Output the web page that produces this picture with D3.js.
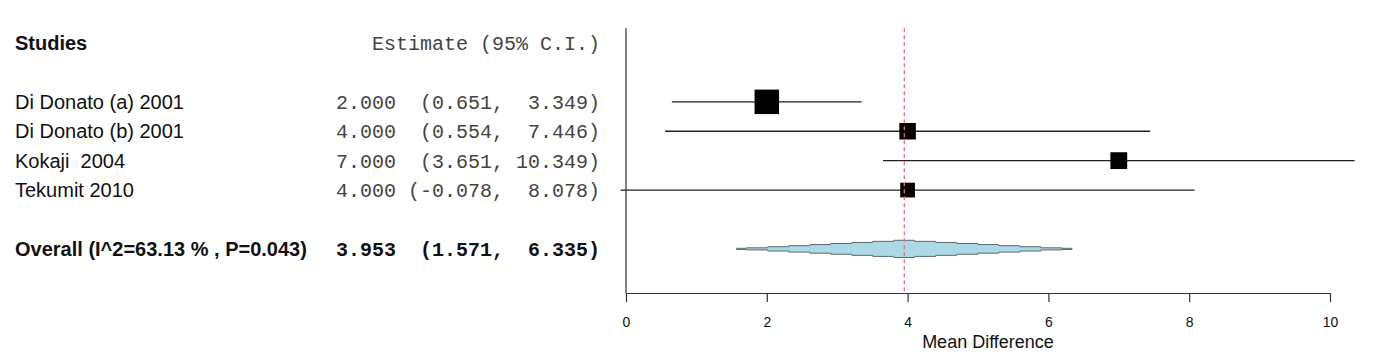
<!DOCTYPE html>
<html>
<head>
<meta charset="utf-8">
<script src="https://cdn.jsdelivr.net/npm/d3@7"></script>
<style>
  html, body { margin: 0; padding: 0; background: #fff; }
  svg { display: block; }
  text { white-space: pre; }
</style>
</head>
<body>
<script>
// ---- data ----
const studies   = ["Di Donato (a) 2001", "Di Donato (b) 2001", "Kokaji  2004", "Tekumit 2010"];
const estimates = [2.000, 4.000, 7.000, 4.000];
const lowerCI   = [0.651, 0.554, 3.651, -0.078];
const upperCI   = [3.349, 7.446, 10.349, 8.078];
const weights   = [43.8, 19.9, 20.6, 15.8];
const overallLabel = "Overall (I^2=63.13 % , P=0.043)";
const overallEst = 3.953, overallLo = 1.571, overallHi = 6.335;
const xTicks = [0, 2, 4, 6, 8, 10];
const headerLeft = "Studies";
const headerRight = "Estimate (95% C.I.)";
const xTitle = "Mean Difference";

// ---- layout ----
const W = 1378, H = 357;
const svg = d3.select("body").append("svg").attr("width", W).attr("height", H);

const x = d3.scaleLinear().domain([0, 10]).range([626, 1330]);
const y = d3.scaleLinear().domain([-0.5, 8.5]).range([28.3, 293]);
const box = d3.scaleSqrt().domain([0, d3.max(weights)]).range([0, 24.5]);

const studyRows = studies.map((d, i) => i + 2);
const headerRow = 0, overallRow = 7;

const fmt = v => v.toFixed(3);
const ciText = (e, l, u) => fmt(e) + " " + ("(" + fmt(l) + ",").padStart(8) + " " + (fmt(u) + ")").padStart(7);

const sans = "'Liberation Sans', Arial, sans-serif";
const mono = "'Liberation Mono', 'Courier New', monospace";

// header
svg.append("text").attr("x", 15).attr("y", y(headerRow)).attr("dy", "0.35em")
  .attr("font-family", sans).attr("font-size", 20).attr("font-weight", "bold").attr("fill", "#111")
  .text(headerLeft);
svg.append("text").attr("x", 600).attr("y", y(headerRow)).attr("dy", "0.35em")
  .attr("text-anchor", "end").attr("font-family", mono).attr("font-size", 20).attr("fill", "#444")
  .text(headerRight);

// study labels
svg.selectAll("text.study").data(studies).join("text").attr("class", "study")
  .attr("x", 15).attr("y", (d, i) => y(studyRows[i])).attr("dy", "0.35em")
  .attr("font-family", sans).attr("font-size", 20).attr("fill", "#111")
  .text(d => d);

svg.selectAll("text.ci").data(studies).join("text").attr("class", "ci")
  .attr("x", 600).attr("y", (d, i) => y(studyRows[i])).attr("dy", "0.35em")
  .attr("text-anchor", "end").attr("font-family", mono).attr("font-size", 20).attr("fill", "#444")
  .text((d, i) => ciText(estimates[i], lowerCI[i], upperCI[i]));

// overall text
svg.append("text").attr("x", 15).attr("y", y(overallRow)).attr("dy", "0.35em")
  .attr("font-family", sans).attr("font-size", 20).attr("font-weight", "bold").attr("fill", "#111")
  .text(overallLabel);
svg.append("text").attr("x", 600).attr("y", y(overallRow)).attr("dy", "0.35em")
  .attr("text-anchor", "end").attr("font-family", mono).attr("font-size", 20).attr("font-weight", "bold").attr("fill", "#111")
  .text(ciText(overallEst, overallLo, overallHi));

// vertical axis line
svg.append("line").attr("x1", x(0)).attr("x2", x(0)).attr("y1", y(-0.5)).attr("y2", y(8.5))
  .attr("stroke", "#333").attr("stroke-width", 1.2);

// x axis
const axisG = svg.append("g").attr("transform", `translate(0,${y(8.5)})`)
  .call(d3.axisBottom(x).tickValues(xTicks).tickFormat(d3.format("d")).tickSize(9).tickSizeOuter(0));
axisG.select(".domain").attr("stroke", "#333").attr("stroke-width", 1.2);
axisG.selectAll(".tick line").attr("stroke", "#333").attr("stroke-width", 1.2);
axisG.selectAll(".tick text").attr("font-family", sans).attr("font-size", 14).attr("fill", "#111").attr("dy", "1.55em");

svg.append("text").attr("x", 988).attr("y", 342).attr("dy", "0.35em").attr("text-anchor", "middle")
  .attr("font-family", sans).attr("font-size", 18).attr("fill", "#111").text(xTitle);

// CI lines
svg.selectAll("line.ciline").data(studies).join("line").attr("class", "ciline")
  .attr("x1", (d, i) => x(lowerCI[i])).attr("x2", (d, i) => x(upperCI[i]))
  .attr("y1", (d, i) => y(studyRows[i])).attr("y2", (d, i) => y(studyRows[i]))
  .attr("stroke", "#222").attr("stroke-width", 1.3);

// boxes
svg.selectAll("rect.box").data(studies).join("rect").attr("class", "box")
  .attr("x", (d, i) => x(estimates[i]) - box(weights[i]) / 2)
  .attr("y", (d, i) => y(studyRows[i]) - box(weights[i]) / 2)
  .attr("width", (d, i) => box(weights[i]))
  .attr("height", (d, i) => box(weights[i]))
  .attr("fill", "#000");

// stepped diamond for the overall estimate
(function () {
  const cx = x(overallEst), cy = y(overallRow);
  const xl = x(overallLo), xr = x(overallHi);
  const halfW = Math.max(cx - xl, xr - cx);
  const Hh = 8.6, step = 21;
  const topPts = [];
  // build segment edges from left tip to right tip
  const edges = [];
  for (let k = 0; ; k++) {
    const d = step / 2 + step * k;
    if (d >= halfW) break;
    edges.push(d);
  }
  const segs = []; // [xa, xb, halfHeight]
  const hAt = dist => Math.max(0.6, Hh * (1 - dist / halfW));
  // left partial
  const nL = edges.length;
  segs.push([xl, cx - edges[nL - 1], hAt((cx - xl + edges[nL - 1]) / 2)]);
  for (let k = nL - 1; k >= 1; k--) segs.push([cx - edges[k], cx - edges[k - 1], hAt(step * k)]);
  segs.push([cx - edges[0], cx + edges[0], Hh]);
  for (let k = 1; k < nL; k++) segs.push([cx + edges[k - 1], cx + edges[k], hAt(step * k)]);
  segs.push([cx + edges[nL - 1], xr, hAt((xr - cx + edges[nL - 1]) / 2)]);
  segs.forEach(s => { topPts.push([s[0], cy - s[2]]); topPts.push([s[1], cy - s[2]]); });
  const botPts = segs.slice().reverse().flatMap(s => [[s[1], cy + s[2]], [s[0], cy + s[2]]]);
  svg.append("path").attr("d", d3.line()(topPts.concat(botPts)) + "Z")
    .attr("fill", "#add8e6").attr("stroke", "#5c6a70").attr("stroke-width", 1);
})();

// reference dashed line at the overall estimate
svg.append("line").attr("x1", x(overallEst)).attr("x2", x(overallEst))
  .attr("y1", y(-0.5)).attr("y2", y(8.5))
  .attr("stroke", "#e8707c").attr("stroke-width", 1.3).attr("stroke-dasharray", "4,3");
</script>
</body>
</html>
